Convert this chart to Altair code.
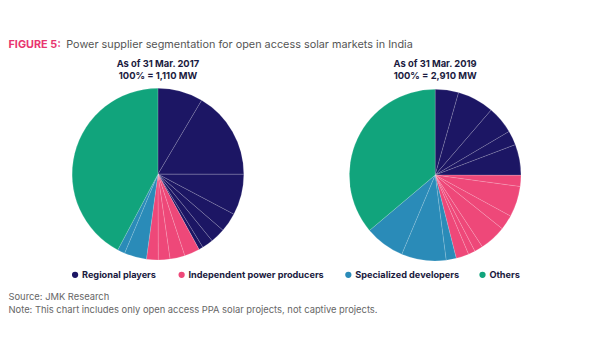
import altair as alt
import pandas as pd

categories = ["Regional players", "Independent power producers", "Specialized developers", "Others"]
colors = ["#1c1664", "#ee4879", "#2a8bb8", "#11a47c"]

# shares (%) of each supplier, clockwise from 12 o'clock
p2017_regional = [8.5, 16.5, 7.7, 3.6, 2.8, 2.1, 0.8]
p2017_ipp = [2.9, 2.8, 2.2, 2.2]
p2017_special = [4.2, 1.4]
p2017_others = [42.2]

p2019_regional = [4.4, 6.9, 5.2, 2.7, 5.8]
p2019_ipp = [2.1, 5.8, 2.8, 5.0, 1.6, 1.3, 2.4]
p2019_special = [1.9, 8.4, 7.5]
p2019_others = [36.1]

rows = []
for pie, groups in [("2017", [p2017_regional, p2017_ipp, p2017_special, p2017_others]),
                    ("2019", [p2019_regional, p2019_ipp, p2019_special, p2019_others])]:
    i = 0
    for cat, vals in zip(categories, groups):
        for v in vals:
            rows.append({"pie": pie, "category": cat, "value": v, "order": i})
            i += 1
df = pd.DataFrame(rows)

color_scale = alt.Scale(domain=categories, range=colors)

def pie_layer(year, cx, cy):
    return alt.Chart(df).transform_filter(alt.datum.pie == year).mark_arc(
        radius=87, stroke="white", strokeWidth=0.6, strokeOpacity=0.25
    ).encode(
        theta=alt.Theta("value:Q", stack=True),
        order=alt.Order("order:Q"),
        color=alt.Color("category:N", scale=color_scale, legend=None),
        x=alt.value(cx),
        y=alt.value(cy),
    )

dummy = pd.DataFrame({"a": [0]})

def txt(s, x, y, size, color, weight="normal", align="left", font="Inter"):
    return alt.Chart(dummy).mark_text(
        align=align, baseline="middle", fontSize=size, fontWeight=weight, color=color, font=font
    ).encode(x=alt.value(x), y=alt.value(y), text=alt.value(s))

OFF = 8
layers = [
    pie_layer("2017", 160 - OFF, 174 - OFF),
    pie_layer("2019", 441 - OFF, 175 - OFF),
    txt("FIGURE 5:", 0.5, 43 - OFF, 11, "#e8356f", "bold"),
    txt("Power supplier segmentation for open access solar markets in India", 67 - OFF, 43 - OFF, 11, "#555555", "normal"),
    txt("As of 31 Mar. 2017", 160 - OFF, 62 - OFF, 9.5, "#1a1a40", "bold", "center"),
    txt("100% = 1,110 MW", 160 - OFF, 75 - OFF, 9.5, "#1a1a40", "bold", "center"),
    txt("As of 31 Mar. 2019", 441 - OFF, 62 - OFF, 9.5, "#1a1a40", "bold", "center"),
    txt("100% = 2,910 MW", 441 - OFF, 75 - OFF, 9.5, "#1a1a40", "bold", "center"),
    txt("Source: JMK Research", 0.5, 299 - OFF, 9.5, "#666666"),
    txt("Note: This chart includes only open access PPA solar projects, not captive projects.", 0.5, 312 - OFF, 9.5, "#666666"),
]

legend_x = [76, 184, 353, 489]
for cat, col, lx in zip(categories, colors, legend_x):
    layers.append(
        alt.Chart(dummy).mark_point(filled=True, size=40, opacity=1, color=col).encode(
            x=alt.value(lx - OFF), y=alt.value(276 - OFF)
        )
    )
    layers.append(txt(cat, lx + 7 - OFF, 276 - OFF, 9.3, "#1a1a40", "bold"))

chart = alt.layer(*layers).resolve_scale(theta="independent").properties(
    width=592, height=352, autosize=alt.AutoSizeParams(type="none"), padding=0,
    background="white"
).configure_view(stroke=None)

chart.save("out.html", embed_options={"renderer": "svg", "actions": False})
